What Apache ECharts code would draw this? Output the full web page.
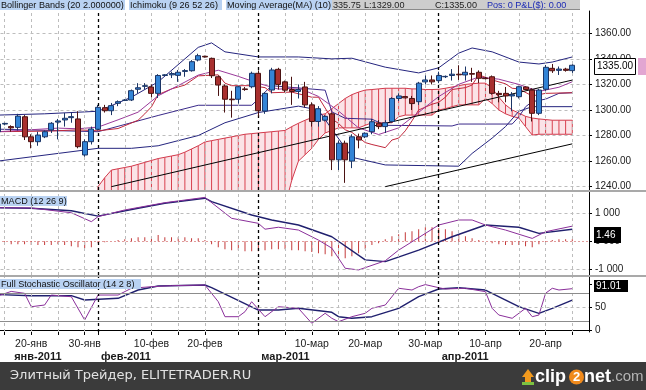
<!DOCTYPE html>
<html><head><meta charset="utf-8">
<script src="https://cdn.jsdelivr.net/npm/echarts/dist/echarts.min.js"></script>
<style>html,body{margin:0;padding:0;background:#fff;overflow:hidden}#c{width:646px;height:390px}</style>
</head><body><div id="c"></div>
<script>
// ---------- categories (trading days incl. Sundays, 2011) ----------
const dates = ['01-14','01-16','01-17','01-18','01-19','01-20','01-21','01-23','01-24','01-25','01-26','01-27','01-28','01-30','01-31',
'02-01','02-02','02-03','02-04','02-06','02-07','02-08','02-09','02-10','02-11','02-13','02-14','02-15','02-16','02-17','02-18','02-20','02-21','02-22','02-23','02-24','02-25','02-27','02-28',
'03-01','03-02','03-03','03-04','03-06','03-07','03-08','03-09','03-10','03-11','03-13','03-14','03-15','03-16','03-17','03-18','03-20','03-21','03-22','03-23','03-24','03-25','03-27','03-28','03-29','03-30','03-31',
'04-01','04-03','04-04','04-05','04-06','04-07','04-08','04-10','04-11','04-12','04-13','04-14','04-15','04-17','04-18','04-19','04-20','04-21','04-22','04-24','04-25','04-26','04-27'];

// ---------- candles ----------
const openP = [1283,1289,1287,1286.4,1294.7,1279,1275.2,1279,1284.4,1290.5,1292.2,1294,1293,1264.8,1275.2,
1284.9,1301.8,1299.4,1305.2,1307.5,1307.8,1316.2,1318.5,1318,1313,1327,1327.5,1327.1,1330.2,1330.7,1339.1,1342,1340.4,1326,1318.8,1308.5,1308.4,1316.5,1318.2,
1328.7,1299.2,1315.6,1331.8,1322,1316,1314.5,1318,1304,1291,1292,1297,1261,1274,1260,1279,1279,1283,1289.6,1287,1291,1309,1310.5,1309,1306.5,1322,1323.5,
1323,1326,1327,1328,1327.4,1328.5,1329.5,1325,1326,1313,1313,1311,1310.4,1318,1315.6,1297.4,1316.2,1332.6,1331,1332,1330.8];
const closeP = [1289,1289.5,1286,1295.2,1279,1275.2,1280.4,1283,1289.6,1291.4,1293.5,1294.8,1271.3,1275.2,1285.1,
1302.1,1299.4,1303.4,1306.5,1307.8,1315.1,1317.4,1319,1313,1327,1327.5,1328.5,1329.5,1330.8,1337.8,1342.5,1341.5,1326.8,1319.5,1308.4,1308,1318.2,1316,1328.7,
1299.4,1313,1331.3,1320,1315.5,1314.5,1316,1304,1291,1301,1295,1261,1274,1261,1279,1276.5,1281.8,1290.8,1287,1290,1309,1311,1309.5,1305,1321,1323.5,1322,
1327,1326.3,1328,1327.5,1329.5,1328,1324.8,1324.5,1313,1312,1311,1312,1318.2,1316,1297.4,1315.6,1333.4,1330.7,1332,1331,1335];
const highP = [1290,1290,1288,1297,1296,1281,1283,1284,1290.5,1293,1297.6,1298,1299,1277,1287,
1304,1304,1305.5,1307.5,1308.5,1316,1321,1321,1320,1328,1328,1330,1331.3,1332,1339,1344,1342.5,1341,1327,1320,1315,1319,1318,1330,
1331,1314,1333,1333,1323,1326,1320,1322,1306,1303,1296,1298,1276,1276,1281,1281.5,1282.5,1293,1292,1292,1310,1313,1311,1311,1322,1327,1327,
1330,1327,1332,1335,1334,1333,1331,1326,1327,1315,1318,1314,1319,1318.5,1317,1316.5,1335.2,1336,1334,1333,1335.75];
const lowP = [1282,1288,1283,1284,1276.5,1270,1272,1278,1282,1277,1287,1290,1270,1263.4,1273,
1284,1298,1296,1303,1307,1307,1313,1316,1310,1309.4,1326.5,1325,1322,1326,1330,1338,1341,1325,1311,1298,1294,1305,1315,1317,
1295,1297,1313,1316,1314,1304,1309,1302,1287,1287,1291,1253,1253,1243,1254.5,1270,1278,1281,1285,1282,1290,1307,1309,1300,1304,1320,1320,
1321,1325,1323,1323.5,1323,1322,1321,1324,1312,1306,1306,1299,1309,1315.5,1291,1296,1315,1329,1327.4,1330,1329];

// ---------- overlays ----------
const bbUpper = [['01-14',1296],['01-23',1297],['02-01',1299],['02-07',1310],['02-11',1322],['02-18',1349],['02-21',1352.5],['02-23',1345.5],['03-01',1341.5],['03-08',1341.5],['03-14',1340],['03-17',1340.5],['03-23',1333.5],['03-29',1329],['04-01',1333],['04-05',1344.5],['04-07',1348.5],['04-11',1345.5],['04-15',1337.5],['04-19',1336],['04-21',1337.5],['04-25',1341.5]];
const bbLower = [['01-14',1260],['01-21',1264],['01-28',1268],['02-01',1270],['02-07',1270],['02-11',1272],['02-18',1280],['02-23',1290],['03-01',1298],['03-08',1303],['03-11',1300],['03-14',1285],['03-17',1263],['03-23',1257],['04-05',1256],['04-07',1266],['04-11',1278],['04-13',1287],['04-15',1299],['04-18',1302.6],['04-25',1302.6]];
const tenkan = [['01-14',1283],['01-24',1283.5],['01-28',1284.5],['02-01',1283.7],['02-04',1285.5],['02-08',1292],['02-09',1297],['02-10',1302.5],['02-11',1312],['02-14',1316.5],['02-16',1319.5],['02-18',1326.7],['02-22',1327.5],['02-23',1321],['02-24',1319],['02-28',1319],['03-02',1317.5],['03-03',1313.5],['03-07',1314],['03-10',1310],['03-11',1310],['03-14',1293],['03-15',1289.5],['03-16',1284.5],['03-17',1282.5],['03-20',1274.5],['03-21',1273],['03-23',1270.5],['03-24',1276.5],['03-25',1278],['03-27',1283.7],['03-28',1291.5],['03-29',1300],['03-31',1304.5],['04-01',1306],['04-03',1310],['04-04',1316],['04-06',1317.5],['04-07',1319.5],['04-08',1327.5],['04-11',1323.5],['04-13',1320.5],['04-14',1317],['04-15',1316.5],['04-18',1311],['04-20',1313],['04-25',1313.5]];
const kijun = [['01-14',1285],['02-01',1283],['02-11',1295.7],['02-18',1303.7],['02-28',1303.7],['03-01',1308.5],['03-02',1314],['03-03',1319],['03-13',1315.5],['03-14',1298.5],['03-16',1293.5],['03-21',1292.8],['03-23',1288],['04-04',1287.5],['04-05',1289],['04-14',1289],['04-15',1294.7],['04-17',1302.5],['04-18',1306.5],['04-20',1308.5],['04-22',1313],['04-25',1313.5]];
const ma10 = [['01-14',1283],['01-25',1285.8],['01-28',1285.3],['02-01',1286.6],['02-04',1292.3],['02-08',1298.3],['02-11',1311.1],['02-15',1319.1],['02-18',1327.3],['02-22',1331.1],['02-25',1326.3],['03-01',1320.9],['03-04',1316.3],['03-08',1317.3],['03-11',1310.6],['03-15',1299.2],['03-18',1286],['03-22',1280.8],['03-25',1286],['03-29',1298.2],['04-01',1310.5],['04-05',1320.1],['04-08',1325.8],['04-12',1324.1],['04-15',1320],['04-19',1314.5],['04-22',1317.8],['04-25',1322.1]];
const cloudTop = [null,null,null,null,null,null,null,null,null,null,null,null,null,null,null,
1240,1247,1253,1254,1255,1256,1257.5,1259,1260.5,1262,1263,1264,1265,1267,1269.5,1272,1275,1276,1277,1278,1279,1280,1281,1281.5,
1282,1282.5,1283,1283.5,1284,1287,1289.6,1292,1294,1296,1297,1301,1305,1309,1312,1314,1315.6,1316,1316.5,1317,1317,1317,1317,1316.5,1316.5,1316,1316,
1316.2,1317,1318,1319,1320,1320.5,1321,1321,1317,1310,1304,1300,1297.6,1295,1293.7,1293,1292.5,1292,1292,1292,1292];
const cloudBottom = [null,null,null,null,null,null,null,null,null,null,null,null,null,null,null,
1225,1225,1225,1225,1225,1225,1225,1225,1225,1225,1225,1225,1225,1225,1225,1225,1225,1225,1225,1225,1225,1225,1225,1225,
1225,1225,1225,1225,1225,1245,1260,1265,1270,1277,1282,1284,1286,1286,1286,1286,1288,1290,1290,1290,1290,1294.7,1296,1296,1296,1296,1296,
1300,1301,1302.6,1304,1304,1304,1304,1309,1305,1300,1297,1295,1293.7,1287,1280.4,1281,1281,1281,1281,1281,1281];
const trend1 = [['02-03',1240],['04-25',1323.4]];
const trend2 = [['03-23',1240],['04-25',1273.5]];

// ---------- MACD (12 26 9) ----------
const macdSignal = [['01-14',1.2],['01-20',1.18],['01-27',1.09],['02-01',0.90],['02-08',1.18],['02-13',1.36],['02-20',1.54],['02-21',1.42],['02-28',0.94],['03-03',0.76],['03-08',0.58],['03-14',0.16],['03-20',-0.67],['03-23',-0.73],['03-29',-0.32],['04-04',0.16],['04-10',0.58],['04-15',0.50],['04-19',0.28],['04-25',0.43]];
const macdLine = [['01-14',1.2],['01-20',1.19],['01-27',1.02],['01-31',0.70],['02-01',0.88],['02-06',1.12],['02-13',1.38],['02-20',1.57],['02-24',0.82],['03-01',0.64],['03-02',0.43],['03-04',0.50],['03-08',0.40],['03-11',0.04],['03-14',-0.25],['03-16',-0.97],['03-18',-1.03],['03-23',-0.70],['03-25',-0.32],['04-01',0.58],['04-05',0.76],['04-07',0.76],['04-10',0.58],['04-13',0.40],['04-18',0.10],['04-20',0.34],['04-25',0.54]];
const macdHist = [-0.07,-0.07,-0.11,-0.11,-0.11,-0.14,-0.14,-0.14,-0.14,-0.11,-0.14,-0.18,-0.22,-0.25,-0.22,
-0.07,-0.04,0,0.04,0.07,0.11,0.14,0.14,0.18,0.22,0.14,0.14,0.14,0.14,0.11,0.11,0.04,-0.11,-0.22,-0.29,-0.32,-0.32,-0.36,-0.36,
-0.36,-0.32,-0.29,-0.29,-0.29,-0.32,-0.32,-0.36,-0.39,-0.43,-0.47,-0.54,-0.61,-0.61,-0.54,-0.43,-0.29,-0.14,-0.07,0.07,0.18,0.25,0.32,0.36,0.43,0.5,0.5,
0.47,0.43,0.36,0.25,0.18,0.11,0.04,0,-0.07,-0.11,-0.14,-0.14,-0.14,-0.18,-0.22,-0.11,-0.04,0.04,0.07,0.07,0.07];

// ---------- Full Stochastic (14 2 8) ----------
const stochK = [['01-14',75],['01-17',85],['01-19',80.8],['01-20',51.3],['01-23',55],['01-24',77],['01-27',73.3],['01-30',22],['02-01',77],['02-04',77],['02-07',91.9],['02-10',95.4],['02-14',97.6],['02-20',99.1],['02-22',62.3],['02-23',29.3],['02-25',29.3],['02-27',40.3],['02-28',62.3],['03-02',29.3],['03-04',51.3],['03-08',47.8],['03-10',14.8],['03-13',36.8],['03-14',25.8],['03-15',18.3],['03-17',29.3],['03-20',36.8],['03-21',47.8],['03-23',55],['03-25',91.9],['03-28',88.1],['03-29',95.4],['03-30',100],['04-01',93.2],['04-03',90.3],['04-06',91.9],['04-10',84.4],['04-11',47.8],['04-12',33],['04-14',25.8],['04-17',47.8],['04-18',29.3],['04-19',33],['04-20',80.8],['04-21',91.9],['04-22',88.1],['04-25',91.01]];
const stochD = [['01-14',78],['01-20',75.6],['01-27',75.6],['01-30',66],['02-04',69.8],['02-08',88.1],['02-11',96.9],['02-20',99.1],['02-21',93.2],['03-01',44],['03-04',44],['03-08',47.8],['03-14',39],['03-15',29.3],['03-17',25.8],['03-21',29.3],['03-25',47.8],['03-29',73.3],['04-01',90.3],['04-05',93.2],['04-10',88.1],['04-15',51.3],['04-19',36.8],['04-21',47.8],['04-25',66]];

// ---------- axis text ----------
const dayLabels = {'01-20':'20-янв','01-30':'30-янв','02-10':'10-фев','02-20':'20-фев','03-10':'10-мар','03-20':'20-мар','03-30':'30-мар','04-10':'10-апр','04-20':'20-апр'};
const monthLabels = {'01-17':'янв-2011','02-01':'фев-2011','03-01':'мар-2011','04-01':'апр-2011'};
const monthStarts = ['02-01','03-01','04-01'];
const gridDays = ['01-16','01-20','01-25','01-30','02-06','02-10','02-15','02-20','02-25','03-06','03-10','03-15','03-20','03-25','03-30','04-05','04-10','04-15','04-20','04-25'];

// ---------- build ----------
const FONT = '"Liberation Sans", Arial, sans-serif';
const HF = '9.1px ' + FONT;
const candles = openP.map((o,i)=>[o, closeP[i], lowP[i], highP[i]]);
const cloudBand = cloudTop.map((t,i)=> t==null ? null : t - cloudBottom[i]);
const hatch = [];
cloudTop.forEach((t,i)=>{ if(t!=null) hatch.push([dates[i], cloudBottom[i], t]); });
const tickSet = new Set([...gridDays, ...monthStarts]);
const vLines = [...gridDays.map(d=>({xAxis:d})),
  ...monthStarts.map(d=>({xAxis:d, lineStyle:{color:'#000', type:[3,3], width:1.3}}))];
const grayDash = {color:'#bdbdbd', type:[3,3], width:1};
const mlBase = {symbol:['none','none'], silent:true, animation:false, label:{show:false}, lineStyle:grayDash};
const lineS = (name, data, color, width, xi, yi, z) => ({name, type:'line', data, xAxisIndex:xi, yAxisIndex:yi,
  symbol:'none', showSymbol:false, connectNulls:true, lineStyle:{color, width}, z:z||4, animation:false});
const hiddenX = gi => ({type:'category', gridIndex:gi, data:dates, boundaryGap:true,
  axisLine:{show:false}, axisTick:{show:false}, axisLabel:{show:false}, splitLine:{show:false}});
const rightY = (gi, min, max, split, fmt) => ({type:'value', gridIndex:gi, position:'right', min, max, splitNumber:split, scale:true,
  axisLine:{show:true, lineStyle:{color:'#000'}}, axisTick:{show:true, length:3, lineStyle:{color:'#000'}},
  axisLabel:{show:true, formatter:fmt, color:'#1a1a1a', fontSize:10, fontFamily:FONT, margin:6, showMinLabel:false, showMaxLabel:false},
  splitLine:{show:false}});

const option = {
  animation:false,
  backgroundColor:'#ffffff',
  textStyle:{fontFamily:FONT},
  grid:[
    {left:-5.5, width:594.5, top:11, height:179, outerBoundsMode:'none'},
    {left:-5.5, width:594.5, top:192, height:83, outerBoundsMode:'none'},
    {left:-5.5, width:594.5, top:277, height:55, outerBoundsMode:'none'}
  ],
  xAxis:[
    hiddenX(0), hiddenX(1),
    {type:'category', gridIndex:2, data:dates, boundaryGap:true,
      axisLine:{show:true, lineStyle:{color:'#000'}},
      axisTick:{show:true, alignWithLabel:true, length:5, interval:(i,v)=>tickSet.has(v), lineStyle:{color:'#000'}},
      axisLabel:{show:true, interval:(i,v)=>v in dayLabels, formatter:v=>dayLabels[v]||'', color:'#1a1a1a', fontSize:10.5, fontFamily:FONT, margin:7},
      splitLine:{show:false}},
    {type:'category', gridIndex:2, data:dates, boundaryGap:true, position:'bottom', offset:12,
      axisLine:{show:false}, axisTick:{show:false},
      axisLabel:{show:true, interval:(i,v)=>v in monthLabels, formatter:v=>monthLabels[v]||'', align:'left', padding:[0,0,0,3],
        color:'#1a1a1a', fontSize:11, fontWeight:'bold', fontFamily:FONT, margin:7},
      splitLine:{show:false}}
  ],
  yAxis:[
    Object.assign(rightY(0, 1237.39, 1377.45, 7, v=>v.toFixed(2)),
      {splitLine:{show:true, showMinLine:false, showMaxLine:false, lineStyle:grayDash}}),
    rightY(1, -1.211, 1.763, 3, v=> Math.abs(v-1)<1e-6 ? '1 000' : Math.abs(v+1)<1e-6 ? '-1 000' : Math.abs(v)<1e-6 ? '0 000' : ''),
    rightY(2, -4.41, 116.74, 2, v=> Math.abs(v)<1e-6 ? '0' : Math.abs(v-50)<1e-6 ? '50' : '')
  ],
  series:[
    {name:'cloudBase', type:'line', stack:'cloud', data:cloudBottom, xAxisIndex:0, yAxisIndex:0, symbol:'none',
      lineStyle:{opacity:0}, z:1, animation:false,
      markLine:Object.assign({}, mlBase, {data:vLines})},
    {name:'cloudFill', type:'line', stack:'cloud', data:cloudBand, xAxisIndex:0, yAxisIndex:0, symbol:'none',
      lineStyle:{opacity:0}, areaStyle:{color:'#fbe3e7', opacity:1}, z:1, animation:false},
    {name:'cloudHatch', type:'custom', data:hatch, xAxisIndex:0, yAxisIndex:0, clip:true, z:2, encode:{x:0, y:[1,2]},
      renderItem:(p, api)=>{ const a = api.coord([api.value(0), api.value(1)]); const b = api.coord([api.value(0), api.value(2)]);
        return {type:'line', shape:{x1:a[0], y1:a[1], x2:b[0], y2:b[1]}, style:{stroke:'#d8404f', lineWidth:1}}; }},
    lineS('spanTop', cloudTop, '#d23a4c', 1, 0, 0, 3),
    lineS('spanBottom', cloudBottom, '#d23a4c', 1, 0, 0, 3),
    lineS('bbUpper', bbUpper, '#24247e', 1, 0, 0),
    lineS('bbLower', bbLower, '#24247e', 1, 0, 0),
    lineS('kijun', kijun, '#3a2a8a', 1, 0, 0),
    lineS('tenkan', tenkan, '#c0283c', 1, 0, 0),
    lineS('ma10', ma10, '#9a3a9a', 1, 0, 0),
    lineS('trend1', trend1, '#000000', 1, 0, 0, 5),
    lineS('trend2', trend2, '#000000', 1, 0, 0, 5),
    {name:'price', type:'candlestick', data:candles, xAxisIndex:0, yAxisIndex:0, barWidth:5.5, z:6,
      itemStyle:{color:'#3384d6', color0:'#a8302f', borderColor:'#1b3566', borderColor0:'#4a1212', borderWidth:1}},
    {name:'hist', type:'bar', data:macdHist, xAxisIndex:1, yAxisIndex:1, barWidth:1, itemStyle:{color:'#c43a3a'}, z:2,
      markLine:Object.assign({}, mlBase, {data:[...vLines, {yAxis:1}, {yAxis:-1},
        {yAxis:0, lineStyle:{color:'#c43a3a', type:[1,3], width:1}}]})},
    lineS('signal', macdSignal, '#20206e', 1.4, 1, 1),
    lineS('macd', macdLine, '#8a2f9a', 1, 1, 1),
    lineS('stochD', stochD, '#20206e', 1.4, 2, 2),
    Object.assign(lineS('stochK', stochK, '#8a2f9a', 1, 2, 2), {
      markLine:Object.assign({}, mlBase, {data:[...vLines, {yAxis:50},
        {yAxis:80, lineStyle:{color:'#8c8c8c', type:'solid', width:1}},
        {yAxis:20, lineStyle:{color:'#8c8c8c', type:'solid', width:1}}]})})
  ],
  graphic:[
    {type:'rect', z:100, shape:{x:0, y:190, width:646, height:2}, style:{fill:'#a9a9a9'}},
    {type:'rect', z:100, shape:{x:0, y:275, width:646, height:2}, style:{fill:'#a9a9a9'}},
    {type:'rect', z:100, shape:{x:0, y:0, width:125, height:10}, style:{fill:'#b9d2f2'}},
    {type:'text', z:101, x:1, y:5, style:{text:'Bollinger Bands (20 2.000000)', font:HF, fill:'#111', textVerticalAlign:'middle'}},
    {type:'rect', z:100, shape:{x:129, y:0, width:93, height:10}, style:{fill:'#b9d2f2'}},
    {type:'text', z:101, x:130, y:5, style:{text:'Ichimoku (9 26 52 26)', font:HF, fill:'#111', textVerticalAlign:'middle'}},
    {type:'rect', z:100, shape:{x:226, y:0, width:106, height:10}, style:{fill:'#b9d2f2'}},
    {type:'rect', z:100, shape:{x:332, y:0, width:248, height:10}, style:{fill:'#cdcdcd'}},
    {type:'rect', z:100, shape:{x:332, y:9, width:248, height:1}, style:{fill:'#8a8a8a'}},
    {type:'text', z:101, x:227, y:5, style:{text:'Moving Average(MA) (10)', font:HF, fill:'#111', textVerticalAlign:'middle'}},
    {type:'text', z:101, x:333, y:5, style:{text:'335.75', font:HF, fill:'#222', textVerticalAlign:'middle'}},
    {type:'text', z:101, x:364, y:5, style:{text:'L:1329.00', font:HF, fill:'#222', textVerticalAlign:'middle'}},
    {type:'text', z:101, x:435, y:5, style:{text:'C:1335.00', font:HF, fill:'#222', textVerticalAlign:'middle'}},
    {type:'text', z:101, x:487, y:5, style:{text:'Pos: 0 P&L($): 0.00', font:HF, fill:'#1c2ab4', textVerticalAlign:'middle'}},
    {type:'rect', z:100, shape:{x:0, y:196, width:67, height:10}, style:{fill:'#b9d2f2'}},
    {type:'text', z:101, x:1, y:201, style:{text:'MACD (12 26 9)', font:HF, fill:'#111', textVerticalAlign:'middle'}},
    {type:'rect', z:100, shape:{x:0, y:279, width:141, height:10}, style:{fill:'#b9d2f2'}},
    {type:'text', z:101, x:1, y:284, style:{text:'Full Stochastic Oscillator (14 2 8)', font:HF, fill:'#111', textVerticalAlign:'middle'}},
    {type:'rect', z:100, shape:{x:594.5, y:58.5, width:41, height:16}, style:{fill:'#fff', stroke:'#000', lineWidth:1}},
    {type:'text', z:101, x:597, y:66.5, style:{text:'1335.00', font:'10px '+FONT, fill:'#000', textVerticalAlign:'middle'}},
    {type:'rect', z:100, shape:{x:638, y:58, width:8, height:17}, style:{fill:'#e2a6d2'}},
    {type:'rect', z:100, shape:{x:594, y:227, width:27, height:16}, style:{fill:'#000'}},
    {type:'text', z:101, x:596, y:235, style:{text:'1.46', font:'10px '+FONT, fill:'#fff', textVerticalAlign:'middle'}},
    {type:'rect', z:100, shape:{x:594, y:280, width:34, height:12}, style:{fill:'#000'}},
    {type:'text', z:101, x:596, y:286, style:{text:'91.01', font:'10px '+FONT, fill:'#fff', textVerticalAlign:'middle'}},
    {type:'rect', z:100, shape:{x:0, y:362, width:646, height:28}, style:{fill:'#3b3b3b'}},
    {type:'text', z:101, x:10, y:376, style:{text:'Элитный Трейдер, ELITETRADER.RU', font:'13px "DejaVu Sans", sans-serif', fill:'#e2e2e2', textVerticalAlign:'middle'}},
    {type:'polygon', z:101, shape:{points:[[522,377],[528,369],[534,377],[531,377],[531,384],[525,384],[525,377]]}, style:{fill:'#f29a1e'}},
    {type:'rect', z:101, shape:{x:522, y:382, width:12, height:3}, style:{fill:'#7cc242'}},
    {type:'text', z:101, x:535, y:377, style:{text:'clip', font:'bold 18px '+FONT, fill:'#ffffff', textVerticalAlign:'middle'}},
    {type:'circle', z:101, shape:{cx:576.5, cy:377, r:7.5}, style:{fill:'#f08a1c'}},
    {type:'text', z:102, x:576.5, y:377.5, style:{text:'2', font:'bold 13px '+FONT, fill:'#ffffff', textAlign:'center', textVerticalAlign:'middle'}},
    {type:'text', z:101, x:584, y:377, style:{text:'net', font:'bold 18px '+FONT, fill:'#ffffff', textVerticalAlign:'middle'}},
    {type:'text', z:101, x:611, y:377, style:{text:'.com', font:'15px '+FONT, fill:'#b5b5b5', textVerticalAlign:'middle'}}
  ]
};
const chart = echarts.init(document.getElementById('c'), null, {renderer:'canvas'});
chart.setOption(option);
</script>
</body></html>
